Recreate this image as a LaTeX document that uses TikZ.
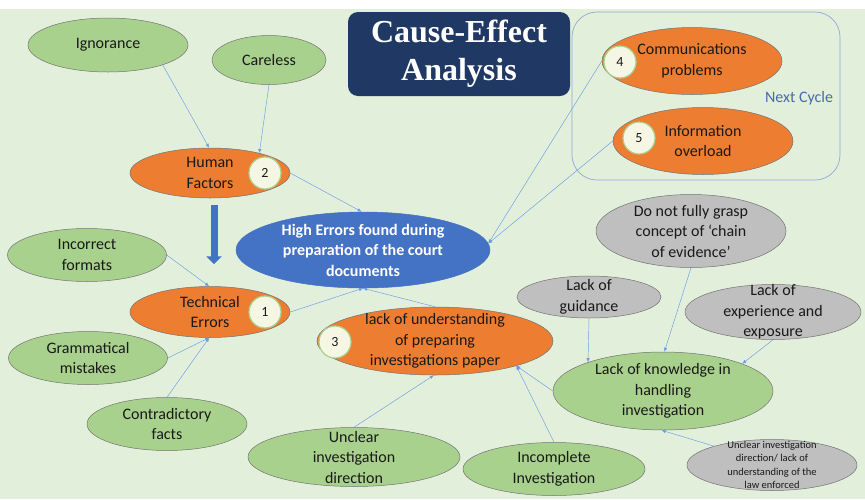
\documentclass[tikz,border=0pt]{standalone}
\usepackage{fontspec}
\setmainfont{Carlito}
\newfontfamily\titlefont{Liberation Serif}
\usetikzlibrary{shapes.geometric,arrows.meta}

\definecolor{bgGreen}{HTML}{E2EFDA}
\definecolor{leafGreen}{HTML}{A9D18E}
\definecolor{causeOrange}{HTML}{ED7D31}
\definecolor{effectBlue}{HTML}{4472C4}
\definecolor{greyNode}{HTML}{BFBFBF}
\definecolor{titleNavy}{HTML}{203864}
\definecolor{linkBlue}{HTML}{6B9BE8}
\definecolor{cycleBlue}{HTML}{8FAADC}
\definecolor{nextText}{HTML}{4A69B5}
\definecolor{badgeFill}{HTML}{F6F6E4}

\begin{document}
\begin{tikzpicture}[x=1pt,y=-1pt,
    every node/.style={font=\fontsize{16}{20.5}\selectfont, text=black!90, align=center},
    dims/.style 2 args={minimum width=#1pt, minimum height=#2pt},
    blob/.style={ellipse, draw=black!55, line width=0.5pt, inner xsep=0pt, inner ysep=-9pt},
    leaf/.style={blob, fill=leafGreen},
    cause/.style={blob, fill=causeOrange},
    grey/.style={blob, fill=greyNode},
    badge/.style={circle, fill=badgeFill, draw=leafGreen, line width=1.2pt, minimum size=32pt, inner sep=0pt, font=\fontsize{14}{16}\selectfont},
    link/.style={linkBlue, line width=0.45pt, -{Latex[length=4pt,width=3.5pt]}}]

  % Background
  \fill[white] (0,0) rectangle (865,499);
  \fill[bgGreen] (0,9) rectangle (865,499);
  \useasboundingbox (0,0) rectangle (865,499);

  % Title and next cycle frame
  \node[fill=titleNavy, rounded corners=10pt, dims={222}{84}, text=white,
        font=\titlefont\bfseries\fontsize{32}{38}\selectfont] (title) at (459,54) {Cause-Effect\\Analysis};
  \node[draw=cycleBlue, line width=0.7pt, rounded corners=25pt, dims={268}{168}] (cycle) at (706,96) {};
  \node[text=nextText, font=\fontsize{16}{18}\selectfont] (nextlbl) at (799,98) {Next Cycle};

  % Effect
  \node[blob, draw=effectBlue, fill=effectBlue, dims={254}{76}, text=white, font=\bfseries\fontsize{16}{20.5}\selectfont]
       (main) at (363,250) {High Errors found during\\preparation of the court\\documents};

  % Main causes
  \node[cause, dims={160}{50}] (hum) at (210,173) {Human\\Factors};
  \node[cause, dims={160}{51}] (tech) at (210,312) {Technical\\Errors};
  \node[cause, dims={236}{68}] (lou) at (435,341) {lack of understanding\\of preparing\\investigations paper};
  \node[cause, dims={180}{67}] (comm) at (692,61) {Communications\\problems};
  \node[cause, dims={180}{67}] (info) at (703,141) {Information\\overload};

  % Numbers
  \node[badge] (b1) at (265,312) {1};
  \node[badge] (b2) at (265,173) {2};
  \node[badge] (b3) at (335,342) {3};
  \node[badge] (b4) at (620,62) {4};
  \node[badge] (b5) at (639,138) {5};

  % Sub causes
  \node[leaf, dims={160}{54}] (ign) at (108,45) {Ignorance};
  \node[leaf, dims={114}{49}] (car) at (269,60) {Careless};
  \node[leaf, dims={159}{53}] (fmt) at (87,255) {Incorrect\\formats};
  \node[leaf, dims={159}{53}] (gram) at (88,358) {Grammatical\\mistakes};
  \node[leaf, dims={160}{53}] (contr) at (167,424) {Contradictory\\facts};
  \node[leaf, dims={212}{59}] (udir) at (354,457) {Unclear\\investigation\\direction};
  \node[leaf, dims={182}{53}] (inc) at (554,469) {Incomplete\\Investigation};
  \node[leaf, dims={220}{78}] (lok) at (663,391) {Lack of knowledge in\\handling\\investigation};
  \node[grey, dims={190}{73}] (grasp) at (691,231) {Do not fully grasp\\concept of `chain\\of evidence'};
  \node[grey, dims={144}{42}] (gui) at (589,297) {Lack of\\guidance};
  \node[grey, dims={176}{55}] (exp) at (773,312) {Lack of\\experience and\\exposure};
  \node[grey, dims={170}{51}, font=\fontsize{10.5}{13.5}\selectfont] (law) at (772,465)
       {Unclear investigation\\direction/ lack of\\understanding of the\\law enforced};

  % Links
  \draw[link] (ign.-20) -- (hum.92);
  \draw[link] (car.south) -- (hum.22);
  \draw[link] (hum.east) -- (main.92);
  \draw[link] (comm.west) -- (main.3);
  \draw[link] (info.west) -- (main.3);
  \draw[link] (fmt.east) -- (tech.92);
  \draw[link] (gram.east) -- (tech.268);
  \draw[link] (contr.north) -- (tech.268);
  \draw[link] (tech.east) -- (main.south);
  \draw[link] (lou.north) -- (main.south);
  \draw[link] (udir.north) -- (lou.268);
  \draw[link] (inc.north) -- (lou.-17);
  \draw[link] (lok.west) -- (lou.-17);
  \draw[link] (gui.south) -- (lok.159);
  \draw[link] (grasp.south) -- (lok.88);
  \draw[link] (exp.south) -- (lok.19);
  \draw[link] (law.162) -- (lok.268);

  % Human factors lead to technical errors
  \draw[effectBlue, line width=7pt, -{Triangle[length=8pt,width=15pt]}, shorten <=7pt, shorten >=22pt]
       ([xshift=4pt]hum.south) -- ([xshift=4pt]tech.north);

\end{tikzpicture}
\end{document}
